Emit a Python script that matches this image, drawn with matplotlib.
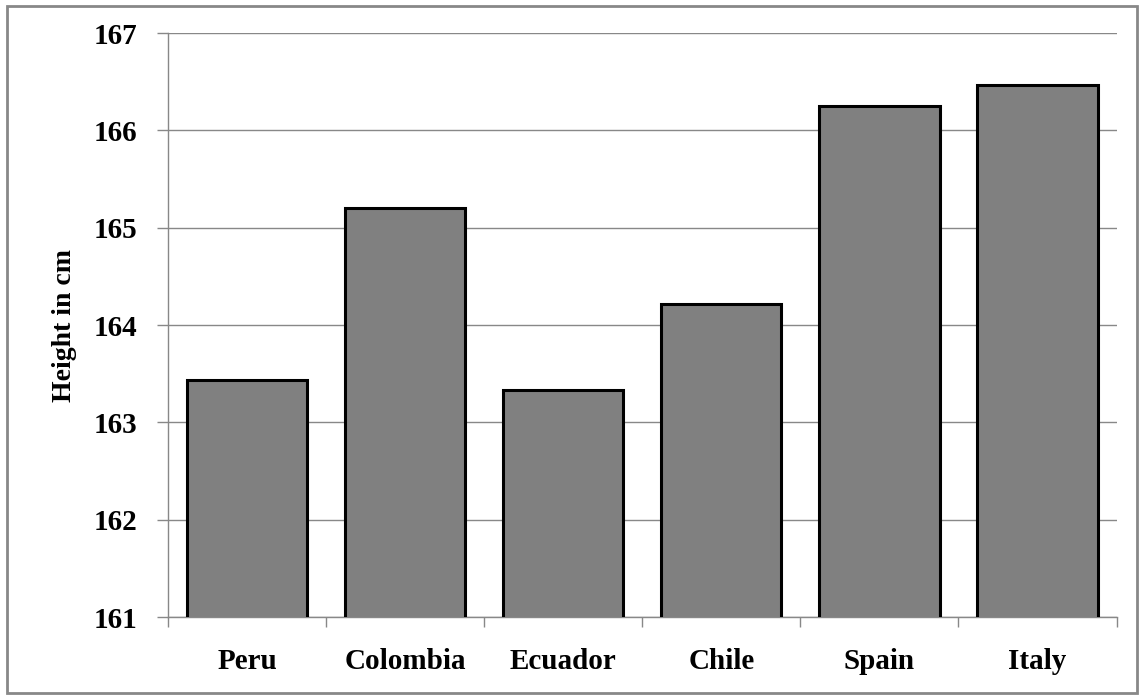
import matplotlib.pyplot as plt
from matplotlib.patches import Rectangle
import numpy as np

countries = ['Peru', 'Colombia', 'Ecuador', 'Chile', 'Spain', 'Italy']
heights = [163.44, 165.2, 163.33, 164.22, 166.25, 166.47]
y_ticks = [161, 162, 163, 164, 165, 166, 167]

plt.rcParams['font.family'] = 'Liberation Serif'
plt.rcParams['font.weight'] = 'bold'

fig = plt.figure(figsize=(11.44, 6.95), dpi=100)
ax = fig.add_axes([0.147, 0.112, 0.829, 0.8405])

x = np.arange(len(countries))
ax.bar(x, heights, width=0.76, bottom=0, color='#808080', edgecolor='black',
       linewidth=2.2, zorder=3)

ax.set_ylim(161, 167)
ax.set_xlim(-0.5, len(countries) - 0.5)
ax.set_yticks(y_ticks)
ax.set_yticklabels([str(t) for t in y_ticks], fontsize=21, fontweight='bold')
ax.set_xticks(x)
ax.set_xticklabels(countries, fontsize=21, fontweight='bold')
ax.tick_params(axis='x', length=0, pad=22)
ax.set_xticks(np.arange(-0.5, len(countries)), minor=True)
ax.tick_params(axis='x', which='minor', length=7, color='#888888', width=1)
ax.tick_params(axis='y', length=8, color='#888888', width=1, pad=14)

ax.grid(axis='y', color='#888888', linewidth=1, zorder=0)
for s in ['top', 'right']:
    ax.spines[s].set_visible(False)
for s in ['left', 'bottom']:
    ax.spines[s].set_color('#888888')
    ax.spines[s].set_linewidth(1)

ax.set_ylabel('Height in cm', fontsize=20, fontweight='bold', labelpad=12)

fig.patches.append(Rectangle((0.006, 0.003), 0.988, 0.989, transform=fig.transFigure,
                             fill=False, edgecolor='#888888', linewidth=2))

fig.savefig('out.png', dpi=100)
